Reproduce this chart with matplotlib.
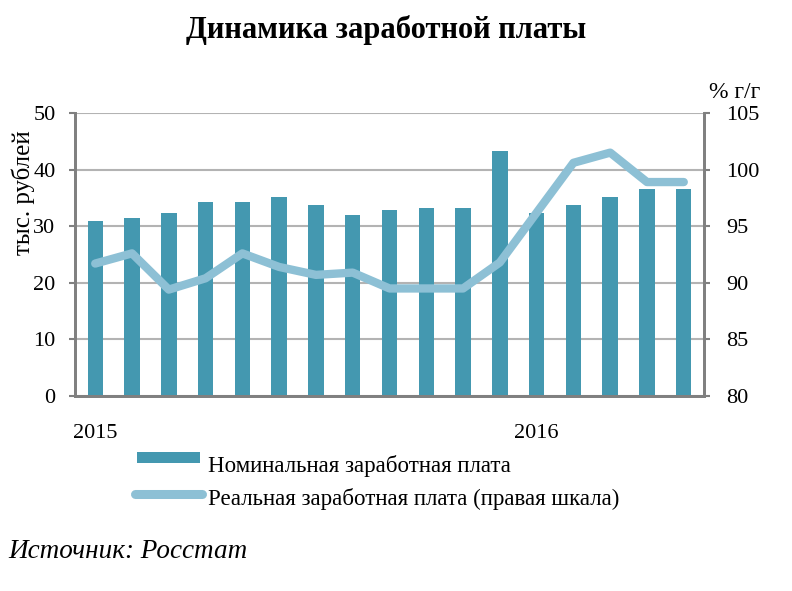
import numpy as np
import matplotlib.pyplot as plt
from matplotlib.patches import Rectangle
from matplotlib.lines import Line2D

plt.rcParams['font.family'] = ['Liberation Serif', 'DejaVu Serif']

# monthly data, Jan 2015 .. May 2016
nominal = [31.0, 31.4, 32.4, 34.3, 34.3, 35.2, 33.8, 31.9, 32.9, 33.3,
           33.3, 43.2, 32.4, 33.8, 35.2, 36.6, 36.6]
real = [91.7, 92.6, 89.4, 90.4, 92.6, 91.4, 90.7, 90.9, 89.5, 89.5,
        89.5, 91.8, 96.2, 100.6, 101.5, 98.9, 98.9]
year_labels = {0: '2015', 12: '2016'}
legend_labels = ['Номинальная заработная плата',
                 'Реальная заработная плата (правая шкала)']

bar_color = '#4498b0'
line_color = '#8dc0d5'
axis_gray = '#808080'
grid_gray = '#b3b3b3'

W, H = 792, 591
x = np.arange(len(nominal))

fig = plt.figure(figsize=(W / 100, H / 100), dpi=100)
ax = fig.add_axes([75 / W, 1 - 396 / H, 629 / W, 283 / H])
ax2 = ax.twinx()

ax.set_axisbelow(True)
ax.yaxis.grid(True, color=grid_gray, linewidth=1.5)
ax.bar(x, nominal, width=0.42, color=bar_color, zorder=2)
ax.set_xlim(-0.55, len(nominal) - 0.45)
ax.set_ylim(0, 50)
ax.set_yticks(range(0, 51, 10))
ax.set_xticks(list(year_labels.keys()))
ax.set_xticklabels(list(year_labels.values()))
ax.tick_params(axis='x', length=0, labelsize=16, pad=20)
ax.tick_params(axis='y', labelsize=16, color=axis_gray, length=4, width=1.5, pad=10)
ax.set_ylabel('тыс. рублей', fontsize=18)
ax.yaxis.set_label_coords(-0.064, 0.72)

ax2.plot(x, real, color=line_color, linewidth=6, solid_capstyle='round',
         solid_joinstyle='round', zorder=3)
ax2.set_ylim(80, 105)
ax2.set_yticks(range(80, 106, 5))
ax2.tick_params(axis='y', labelsize=16, color=axis_gray, length=4, width=1.5, pad=12)

for a in (ax, ax2):
    a.spines['top'].set_visible(False)
    for s in ('left', 'right', 'bottom'):
        a.spines[s].set_color(axis_gray)
        a.spines[s].set_linewidth(2)

fig.text(386 / W, 1 - 30 / H, 'Динамика заработной платы', ha='center', va='center',
         fontsize=22, fontweight='bold')
fig.text(735 / W, 1 - 93 / H, '% г/г', ha='center', va='center', fontsize=17)

# legend drawn by hand in figure pixels
fig.add_artist(Rectangle((137 / W, 1 - 463 / H), 63 / W, 11 / H,
                         facecolor=bar_color, edgecolor='none',
                         transform=fig.transFigure))
fig.add_artist(Line2D([135 / W, 202 / W], [1 - 494 / H, 1 - 494 / H],
                      color=line_color, linewidth=6.5, solid_capstyle='round',
                      transform=fig.transFigure))
fig.text(208 / W, 1 - 466 / H, legend_labels[0], fontsize=16.5, va='center')
fig.text(208 / W, 1 - 499 / H, legend_labels[1], fontsize=16.5, va='center')

fig.text(8 / W, 1 - 552 / H, 'Источник: Росстат', fontsize=19.5, style='italic',
         ha='left', va='center')

fig.savefig('out.png', dpi=100)
